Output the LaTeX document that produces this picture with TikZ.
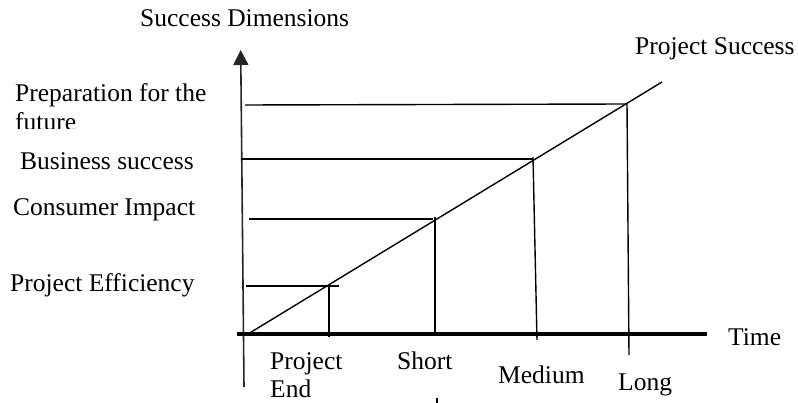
\documentclass[tikz,border=0pt]{standalone}
\usepackage{fontspec}
\setmainfont{Liberation Serif}
\usetikzlibrary{arrows.meta}
\begin{document}
\begin{tikzpicture}[x=1pt,y=-1pt,
  lbl/.style={anchor=base west,inner sep=0pt,font=\fontsize{25.5}{29}\selectfont},
  thin line/.style={line width=1.4pt,black},
  axis line/.style={line width=1.6pt,black!85},
  time axis/.style={line width=4pt,black},
  eff line/.style={line width=2pt,black}]
\useasboundingbox (0,0) rectangle (798,403);
% coordinates
\coordinate (yb) at (244,387);
\coordinate (yt) at (240.7,50);
\coordinate (xl) at (237,334);
\coordinate (xr) at (707,334);
\coordinate (d0) at (248,334);
\coordinate (d1) at (662,82);
\coordinate (p0) at (245,105); \coordinate (p1) at (626,104);
\coordinate (b0) at (241,159); \coordinate (b1) at (533,159);
\coordinate (c0) at (249,219); \coordinate (c1) at (433,219);
\coordinate (e0) at (246,286); \coordinate (e1) at (339,286);
\coordinate (v1a) at (329,285); \coordinate (v1b) at (329,337);
\coordinate (v2a) at (435,217); \coordinate (v2b) at (435,334);
\coordinate (v3a) at (533,157); \coordinate (v3b) at (537,340);
\coordinate (v4a) at (627,103); \coordinate (v4b) at (629,355);
\coordinate (ta) at (437,398); \coordinate (tb) at (437,403);
% axes
\draw[axis line,-{Triangle[width=15pt,length=15pt]}] (yb) -- (yt);
\draw[time axis] (xl) -- (xr);
% diagonal
\draw[thin line] (d0) -- (d1);
% horizontals
\draw[thin line] (p0) -- (p1);
\draw[thin line] (b0) -- (b1);
\draw[thin line] (c0) -- (c1);
\draw[eff line] (e0) -- (e1);
% verticals
\draw[thin line] (v1a) -- (v1b);
\draw[thin line] (v2a) -- (v2b);
\draw[thin line] (v3a) -- (v3b);
\draw[thin line] (v4a) -- (v4b);
\draw[thin line] (ta) -- (tb);
% labels
\node[lbl] (sd) at (140,27) {Success Dimensions};
\node[lbl] (ps) at (635,55) {Project Success};
\node[lbl] (prep) at (15,102) {Preparation for the};
\begin{scope}
\clip (0,0) rectangle (240,129);
\node[lbl] (fut) at (15,131) {future};
\end{scope}
\node[lbl] (bus) at (20,170) {Business success};
\node[lbl] (cons) at (13,216) {Consumer Impact};
\node[lbl] (eff) at (10,292) {Project Efficiency};
\node[lbl] (pe1) at (270,370) {Project};
\node[lbl] (pe2) at (270,397) {End};
\node[lbl] (sh) at (397,370) {Short};
\node[lbl] (med) at (498,383) {Medium};
\node[lbl] (lng) at (618,390) {Long};
\node[lbl] (tm) at (728,345) {Time};
\end{tikzpicture}
\end{document}
